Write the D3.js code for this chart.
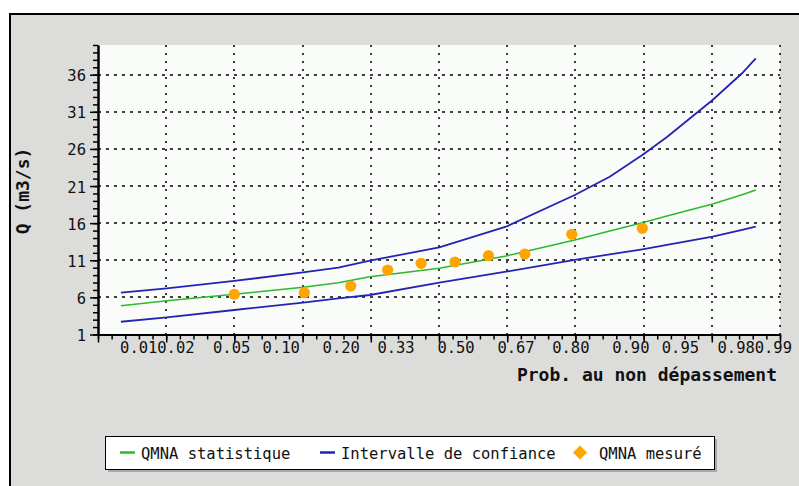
<!DOCTYPE html>
<html>
<head>
<meta charset="utf-8">
<script src="https://cdn.jsdelivr.net/npm/d3@7"></script>
<style>
body { margin: 0; background: #fff; }
text { font-family: "DejaVu Sans Mono", monospace; fill: #111; }
.axis .domain { stroke: #000; stroke-width: 2; }
.axis line { stroke: #000; stroke-width: 1.5; }
.grid line { stroke: #000; stroke-width: 1.5; }
</style>
</head>
<body>
<div id="chart"></div>
<script>
// x axis labels (probabilite au non depassement)
var probTicks = [0.01, 0.02, 0.05, 0.10, 0.20, 0.33, 0.50, 0.67, 0.80, 0.90, 0.95, 0.98, 0.99];
var probLabels = ["0.01", "0.02", "0.05", "0.10", "0.20", "0.33", "0.50", "0.67", "0.80", "0.90", "0.95", "0.98", "0.99"];
var yTicks = [1, 6, 11, 16, 21, 26, 31, 36];

// fitted law + confidence interval
var curveProbs = [0.007, 0.017, 0.052, 0.131, 0.194, 0.264, 0.451, 0.643, 0.808, 0.87, 0.914, 0.939, 0.97, 0.982, 0.986];
var qStat  = [4.88, 5.55, 6.42, 7.36, 7.98, 8.79, 9.92, 11.58, 13.73, 14.94, 16.06, 16.95, 18.58, 19.83, 20.47];
var qUpper = [6.63, 7.22, 8.21, 9.38, 10.0, 10.94, 12.75, 15.52, 19.79, 22.26, 25.18, 27.6, 32.59, 36.19, 38.21];
var qLower = [2.72, 3.32, 4.30, 5.28, 5.88, 6.32, 7.98, 9.46, 11.04, 11.79, 12.48, 13.07, 14.18, 15.08, 15.52];

// measured QMNA
var measProbs = [0.052, 0.133, 0.220, 0.308, 0.399, 0.497, 0.594, 0.693, 0.802, 0.914];
var qMeas = [6.42, 6.63, 7.53, 9.69, 10.59, 10.77, 11.62, 11.84, 14.5, 15.31];

var legendNames = ["QMNA statistique", "Intervalle de confiance", "QMNA mesuré"];

// inverse of the normal cdf (Acklam)
function probit(p) {
	var a = [-3.969683028665376e+01, 2.209460984245205e+02, -2.759285104469687e+02, 1.383577518672690e+02, -3.066479806614716e+01, 2.506628277459239e+00];
	var b = [-5.447609879822406e+01, 1.615858368580409e+02, -1.556989798598866e+02, 6.680131188771972e+01, -1.328068155288572e+01];
	var c = [-7.784894002430293e-03, -3.223964580411365e-01, -2.400758277161838e+00, -2.549732539343734e+00, 4.374664141464968e+00, 2.938163982698783e+00];
	var d = [7.784695709041462e-03, 3.224671290700398e-01, 2.445134137142996e+00, 3.754408661907416e+00];
	var pl = 0.02425, q, r;
	if (p < pl) {
		q = Math.sqrt(-2 * Math.log(p));
		return (((((c[0]*q+c[1])*q+c[2])*q+c[3])*q+c[4])*q+c[5]) / ((((d[0]*q+d[1])*q+d[2])*q+d[3])*q+1);
	}
	if (p > 1 - pl) {
		q = Math.sqrt(-2 * Math.log(1 - p));
		return -(((((c[0]*q+c[1])*q+c[2])*q+c[3])*q+c[4])*q+c[5]) / ((((d[0]*q+d[1])*q+d[2])*q+d[3])*q+1);
	}
	q = p - 0.5; r = q * q;
	return (((((a[0]*r+a[1])*r+a[2])*r+a[3])*r+a[4])*r+a[5])*q / (((((b[0]*r+b[1])*r+b[2])*r+b[3])*r+b[4])*r+1);
}

var W = 799, H = 486;
var margin = {top: 45, right: 19, bottom: 151.5, left: 98},
width = W - margin.left - margin.right,
height = H - margin.top - margin.bottom;

var svg = d3.select("#chart").append("svg")
	.attr("width", W)
	.attr("height", H);

// frame
svg.append("rect").attr("x", 10).attr("y", 14).attr("width", W + 20).attr("height", H + 20)
	.attr("fill", "#dcdddb").attr("stroke", "#000").attr("stroke-width", 2);

var g = svg.append("g")
	.attr("transform", "translate(" + margin.left + "," + margin.top + ")");

g.append("rect").attr("width", width).attr("height", height).attr("fill", "#fafcfa");

// x is linear in the normal variate
var x = d3.scaleLinear().domain([-2.625, 2.375]).range([0, width]);
var y = d3.scaleLinear().domain([1, 40]).range([height, 0]);

var xMajor = d3.range(1, 11).map(function(i) { return -2.625 + i * 0.5; });
var xMinor = d3.range(0, 51).map(function(i) { return -2.625 + i * 0.1; });
var yMinor = d3.range(1, 41);

// grid
g.append("g").attr("class", "grid")
	.selectAll("line").data(yTicks.slice(1)).enter().append("line")
	.attr("x1", 0).attr("x2", width)
	.attr("y1", function(d) { return Math.round(y(d)); })
	.attr("y2", function(d) { return Math.round(y(d)); })
	.attr("stroke-dasharray", "3,5");
g.append("g").attr("class", "grid")
	.selectAll("line").data(xMajor).enter().append("line")
	.attr("x1", function(d) { return Math.round(x(d)); })
	.attr("x2", function(d) { return Math.round(x(d)); })
	.attr("y1", 0).attr("y2", height)
	.attr("stroke-dasharray", "2,6");

// axes
g.append("g").attr("class", "axis")
	.attr("transform", "translate(0," + height + ")")
	.call(d3.axisBottom(x).tickValues(xMinor).tickSize(5).tickSizeOuter(0).tickFormat(""));
g.append("g").attr("class", "axis")
	.attr("transform", "translate(0," + height + ")")
	.call(d3.axisBottom(x).tickValues([-2.625].concat(xMajor)).tickSize(8).tickSizeOuter(0).tickFormat(""));
g.append("g").attr("class", "axis")
	.call(d3.axisLeft(y).tickValues(yMinor).tickSize(5).tickSizeOuter(0).tickFormat(""));
g.append("g").attr("class", "axis")
	.call(d3.axisLeft(y).tickValues(yTicks).tickSize(8).tickSizeOuter(0).tickFormat(""));

// tick labels
g.selectAll(".ylab").data(yTicks).enter().append("text")
	.attr("class", "ylab")
	.attr("x", -12)
	.attr("y", function(d) { return y(d) + 6.5; })
	.attr("text-anchor", "end")
	.style("font-size", "15.5px")
	.text(function(d) { return d; });

g.selectAll(".xlab").data(probTicks).enter().append("text")
	.attr("class", "xlab")
	.attr("x", function(d) { return x(probit(d)); })
	.attr("y", height + 18)
	.attr("text-anchor", "middle")
	.style("font-size", "15.5px")
	.text(function(d, i) { return probLabels[i]; });

// axis titles
svg.append("text")
	.attr("x", 777).attr("y", 381)
	.attr("text-anchor", "end")
	.style("font-size", "18px").style("font-weight", "bold")
	.text("Prob. au non dépassement");
svg.append("text")
	.attr("transform", "translate(29,191) rotate(-90)")
	.attr("text-anchor", "middle")
	.style("font-size", "18px").style("font-weight", "bold")
	.text("Q (m3/s)");

// lines
var line = d3.line()
	.x(function(d, i) { return x(probit(curveProbs[i])); })
	.y(function(d) { return y(d); });

g.append("path").attr("d", line(qLower)).attr("fill", "none").attr("stroke", "#2424b4").attr("stroke-width", 1.8);
g.append("path").attr("d", line(qUpper)).attr("fill", "none").attr("stroke", "#2424b4").attr("stroke-width", 1.8);
g.append("path").attr("d", line(qStat)).attr("fill", "none").attr("stroke", "#2cba2c").attr("stroke-width", 1.6);

g.selectAll(".dot").data(qMeas).enter().append("circle")
	.attr("class", "dot")
	.attr("r", 5.6)
	.attr("cx", function(d, i) { return x(probit(measProbs[i])); })
	.attr("cy", function(d) { return y(d); })
	.attr("fill", "#ffa500");

// legend
var lg = svg.append("g").attr("transform", "translate(105,436)");
lg.append("rect").attr("x", 3).attr("y", 3).attr("width", 609).attr("height", 33).attr("fill", "#a9a9a9");
lg.append("rect").attr("x", 0.5).attr("y", 0.5).attr("width", 609).attr("height", 33)
	.attr("fill", "#fff").attr("stroke", "#000").attr("stroke-width", 1);

var legendX = [15, 215, 468];
var legendColor = ["#2cba2c", "#2424b4", "#ffa500"];
legendNames.forEach(function(name, i) {
	var ix = legendX[i];
	if (i < 2) {
		lg.append("line").attr("x1", ix).attr("x2", ix + 15).attr("y1", 16.5).attr("y2", 16.5)
			.attr("stroke", legendColor[i]).attr("stroke-width", 2.5);
		lg.append("text").attr("x", ix + 21).attr("y", 22.5).style("font-size", "15.5px").text(name);
	} else {
		lg.append("path").attr("d", "M" + (ix + 7) + ",9.5L" + (ix + 14) + ",16.5L" + (ix + 7) + ",23.5L" + ix + ",16.5Z")
			.attr("fill", legendColor[i]);
		lg.append("text").attr("x", ix + 26).attr("y", 22.5).style("font-size", "15.5px").text(name);
	}
});
</script>
</body>
</html>
